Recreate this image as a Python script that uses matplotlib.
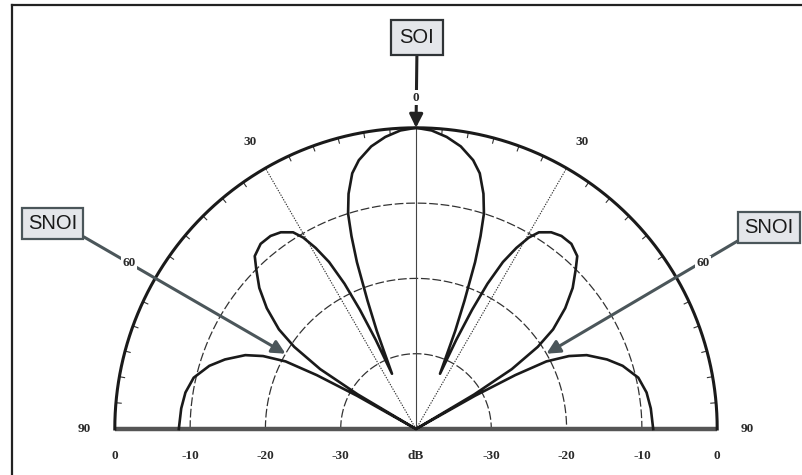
import numpy as np
import matplotlib.pyplot as plt

# beam pattern, right half (0 = broadside); left half is the mirror image
angle_deg = [0, 3, 6, 9, 12, 14, 16, 17.5, 18.5, 19.5, 20.7, 21.8, 23.5,
             24.3, 25.2, 26.2, 27.5, 29, 30.5, 32, 34.5, 37, 40, 43, 45,
             48, 51, 54, 56, 58, 59.3, 60,
             60.6, 61.5, 62.6, 64.5, 66.6, 70, 73, 77, 81, 85, 90]
gain_db = [0, -0.3, -1.0, -2.0, -3.5, -5.0, -7.5, -10, -13, -16.5, -21.8, -26, -32,
           -27, -22.5, -18.5, -15, -12.5, -10.5, -9.2, -8.3, -7.9, -7.9, -8.6, -10,
           -12, -14.5, -17.5, -20.5, -25, -31, -40,
           -31, -25, -20.5, -17.5, -15.3, -13, -11.3, -9.7, -9.0, -8.7, -8.5]

floor_db = -40
ring_db = [-10, -20, -30]
spoke_deg = [-30, 30]
angle_ticks = [-90, -60, -30, 0, 30, 60, 90]
angle_labels = ["90", "60", "30", "0", "30", "60", "90"]
range_pos = [-40, -30, -20, -10, 0, 10, 20, 30, 40]
range_labels = ["0", "-10", "-20", "-30", "dB", "-30", "-20", "-10", "0"]
soi_deg = 0
snoi_deg = [-60, 60]
snoi_arrow_db = -20


def to_xy(theta, db):
    r = np.clip(np.asarray(db, dtype=float), floor_db, 0) - floor_db
    t = np.radians(theta)
    return r * np.sin(t), r * np.cos(t)


fig = plt.figure(figsize=(8.02, 4.75), dpi=100)
ax = fig.add_axes([0, 0, 1, 1])
scale = 7.53  # pixels per dB
ax.set_xlim(-416 / scale, (802 - 416) / scale)
ax.set_ylim(-(475 - 429) / scale, 429 / scale)
ax.axis("off")

serif = "Liberation Serif"
sans = "Liberation Sans"

# grid: dashed range rings, spokes, outer 0 dB circle, baseline
arc = np.linspace(-90, 90, 361)
for db in ring_db:
    x, y = to_xy(arc, np.full_like(arc, db))
    ax.plot(x, y, color="#333333", lw=0.9, ls=(0, (7, 2.2)), zorder=1)
for a in spoke_deg:
    x, y = to_xy([a, a], [floor_db, 0])
    ax.plot(x, y, color="#333333", lw=0.8, ls=(0, (1.2, 1.2)), zorder=1)
x, y = to_xy([0, 0], [floor_db, 0])
ax.plot(x, y, color="#444444", lw=0.8, zorder=1)

x, y = to_xy(arc, np.zeros_like(arc))
ax.plot(x, y, color="#1a1a1a", lw=2.2, zorder=3)
for a in range(-85, 90, 5):
    if a % 30 == 0:
        continue
    x, y = to_xy([a, a], [-0.7, 0])
    ax.plot(x, y, color="#333333", lw=0.8, zorder=2)

x, y = to_xy([-90, 90], [0, 0])
ax.plot(x, y, color="#555555", lw=3.2, solid_capstyle="butt", zorder=2)

# pattern
theta = [-a for a in angle_deg[::-1]] + angle_deg[1:]
gain = gain_db[::-1] + gain_db[1:]
x, y = to_xy(theta, gain)
ax.plot(x, y, color="#1a1a1a", lw=1.9, zorder=4)

# angle labels just outside the 0 dB circle, range labels under the baseline
label_r = 44
for a, lab in zip(angle_ticks, angle_labels):
    t = np.radians(a)
    ax.text(label_r * np.sin(t), label_r * np.cos(t), lab, ha="center",
            va="center", fontsize=9.5, family=serif, fontweight="bold",
            color="#2a2a2a", zorder=7,
            bbox=dict(boxstyle="square,pad=0.12", fc="white", ec="none"))
for p, lab in zip(range_pos, range_labels):
    ax.text(p, -3.6, lab, ha="center", va="center", fontsize=9.5, family=serif,
            fontweight="bold", color="#2a2a2a")

# SOI / SNOI callouts
box_fc = "#e4e6ea"
ax.annotate("SOI", xy=to_xy(soi_deg, 0), xytext=(417 / 802, 1 - 37.5 / 475),
            textcoords="figure fraction", ha="center", va="center",
            fontsize=14.5, family=sans, color="#1a1a1a", zorder=5,
            bbox=dict(boxstyle="square,pad=0.42", fc=box_fc, ec="#2f3336", lw=1.6),
            arrowprops=dict(arrowstyle="-|>", color="#222222", lw=2.2,
                            mutation_scale=20, shrinkA=0, shrinkB=0,
                            relpos=(0.5, 0)))

snoi_color = "#4b565a"
snoi_text = [(52.5 / 802, 1 - 223.5 / 475), (769 / 802, 1 - 227.5 / 475)]
snoi_rel = [(1, 0), (0, 0)]
for a, pos, rel in zip(snoi_deg, snoi_text, snoi_rel):
    ax.annotate("SNOI", xy=to_xy(a, snoi_arrow_db), xytext=pos,
                textcoords="figure fraction", ha="center", va="center",
                fontsize=14.5, family=sans, color="#1a1a1a", zorder=5,
                bbox=dict(boxstyle="square,pad=0.3", fc=box_fc, ec=snoi_color, lw=1.6),
                arrowprops=dict(arrowstyle="-|>", color=snoi_color, lw=2.2,
                                mutation_scale=20, shrinkA=0, shrinkB=0,
                                relpos=rel))

# outer frame
fig.add_artist(plt.Line2D([12 / 802, 1], [1 - 5 / 475, 1 - 5 / 475],
                          transform=fig.transFigure, color="#222222", lw=1.6))
fig.add_artist(plt.Line2D([12 / 802, 12 / 802], [0, 1 - 5 / 475],
                          transform=fig.transFigure, color="#222222", lw=1.6))

fig.savefig("out.png", dpi=100)
